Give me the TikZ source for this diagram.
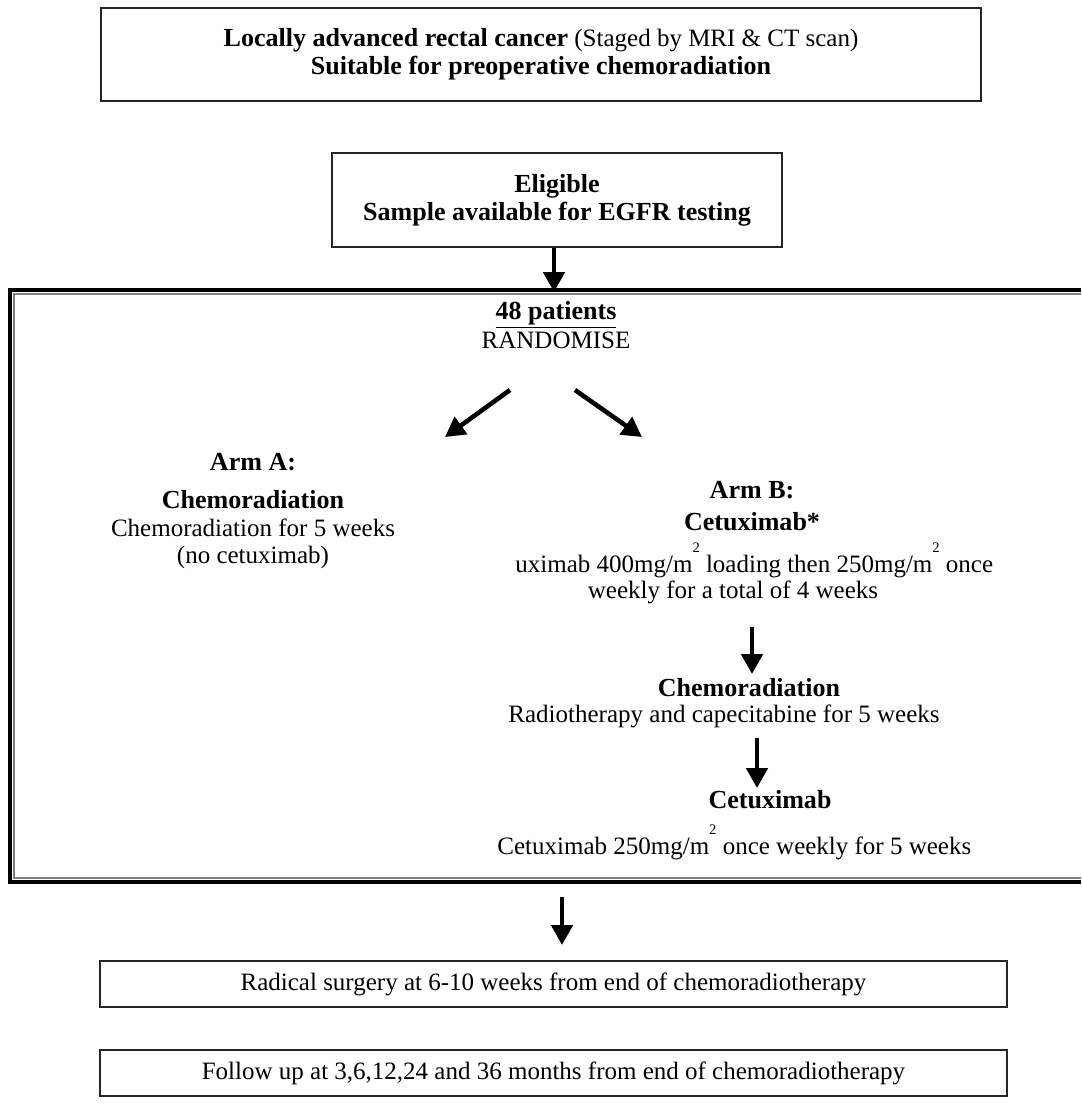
\documentclass[tikz,border=0pt]{standalone}
\usepackage{fontspec}
\setmainfont{Liberation Serif}
\usetikzlibrary{arrows.meta}

\newcommand{\sqm}{m\raisebox{0.8em}{\scriptsize 2}}
\newcommand{\hd}[1]{{\fontsize{12.5}{13.5}\selectfont\bfseries #1}}

\tikzset{
  flowbox/.style={draw=black!85, line width=1.1pt, align=center, inner sep=0pt},
  lbl/.style={align=center, inner sep=0pt},
  thickarrow/.style={line width=2.2pt, -{Triangle[length=9.5pt,width=10pt]}},
}

\begin{document}
\begin{tikzpicture}[x=0.48pt, y=-0.48pt, font=\fontsize{12}{13.5}\selectfont]
\useasboundingbox (0,0) rectangle (1081,1112);

% boxes at the top
\node[flowbox, minimum width=422.4pt, minimum height=44.6pt] (cancer) at (541,54.5)
  {\hd{Locally advanced rectal cancer} (Staged by MRI \& CT scan)\\
   \hd{Suitable for preoperative chemoradiation}};
\node[flowbox, minimum width=216pt, minimum height=45.1pt] (eligible) at (557,200)
  {\hd{Eligible}\\ \hd{Sample available for EGFR testing}};

% randomisation frame (right side runs off the page)
\draw[line width=1.5pt] (1081,290) -- (10,290) -- (10,882) -- (1081,882);
\draw[line width=1pt, gray] (1081,294) -- (14,294) -- (14,878) -- (1081,878);
\coordinate (frametop) at (554,292);

\node[lbl] (patients) at (556,315) {\underline{\hd{48 patients}}};
\node[lbl] (randomise) at (556,340) {RANDOMISE};
\coordinate (splitA) at (510,390);
\coordinate (splitB) at (575,390);
\coordinate (armAend) at (445,437);
\coordinate (armBend) at (642,437);

% arm A
\node[lbl] (armA) at (253,462) {\hd{Arm A:}};
\node[lbl] (armAname) at (253,500) {\hd{Chemoradiation}};
\node[lbl, font=\fontsize{12}{13}\selectfont] (armAtext) at (253,544)
  {Chemoradiation for 5 weeks\\ (no cetuximab)};

% arm B
\node[lbl] (armB) at (752,490) {\hd{Arm B:}};
\node[lbl] (armBname) at (752,522) {\hd{Cetuximab*}};
\node[lbl, anchor=west] (loading) at (515,560)
  {uximab 400mg/\sqm\ loading then 250mg/\sqm\ once};
\node[lbl] (weekly) at (733,592) {weekly for a total of 4 weeks};

\node[lbl] (chemoB) at (749,688) {\hd{Chemoradiation}};
\node[lbl] (radio) at (724,716) {Radiotherapy and capecitabine for 5 weeks};

\node[lbl] (cetux) at (770,800) {\hd{Cetuximab}};
\node[lbl, anchor=west] (cetuxtext) at (497,842)
  {Cetuximab 250mg/\sqm\ once weekly for 5 weeks};

\coordinate (b1top) at (752,627);
\coordinate (b1end) at (752,674);
\coordinate (b2top) at (757,738);
\coordinate (b2end) at (757,788);

% boxes at the bottom
\node[flowbox, minimum width=435.4pt, minimum height=22.1pt] (surgery) at (553.5,984)
  {Radical surgery at 6-10 weeks from end of chemoradiotherapy};
\node[flowbox, minimum width=435.4pt, minimum height=22.1pt] (followup) at (553.5,1073)
  {Follow up at 3,6,12,24 and 36 months from end of chemoradiotherapy};
\coordinate (framebottom) at (562,897);
\coordinate (surgerytop) at (562,945);

% arrows
\draw[thickarrow] (eligible.south -| frametop) -- (frametop);
\draw[thickarrow] (splitA) -- (armAend);
\draw[thickarrow] (splitB) -- (armBend);
\draw[thickarrow] (b1top) -- (b1end);
\draw[thickarrow] (b2top) -- (b2end);
\draw[thickarrow] (framebottom) -- (surgerytop);
\end{tikzpicture}
\end{document}
